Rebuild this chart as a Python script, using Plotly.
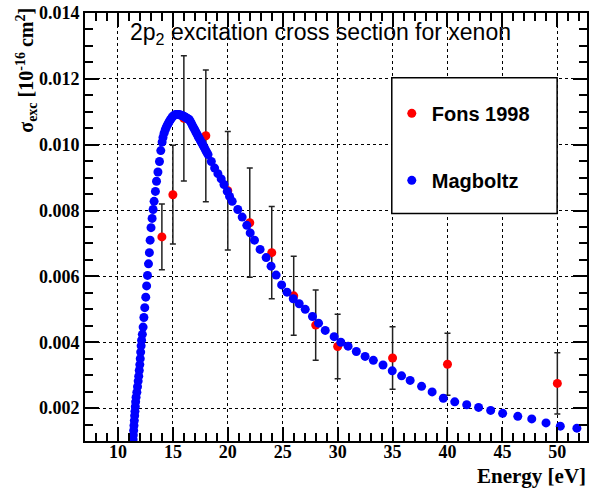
import plotly.graph_objects as go

# Fons 1998 measurements
fons_E = [14, 15, 16, 18, 20, 22, 24, 26, 28, 30, 35, 40, 50]
fons_sigma = [0.0072, 0.00848, 0.0108, 0.01027, 0.0086, 0.00763, 0.00672, 0.00541, 0.00452, 0.00387, 0.00352, 0.00333, 0.00275]
fons_err = [0.0010, 0.0015, 0.0019, 0.0020, 0.0018, 0.00166, 0.0014, 0.0012, 0.00107, 0.00098, 0.00095, 0.00094, 0.00093]

# Magboltz calculation
mag_E = [
    11.38, 11.40, 11.43, 11.46, 11.49, 11.52, 11.55, 11.58, 11.61, 11.65,
    11.72, 11.78, 11.84, 11.89, 11.94, 11.99, 12.03, 12.07, 12.11, 12.15,
    12.22, 12.29, 12.36, 12.44, 12.53, 12.61, 12.69, 12.78, 12.86, 12.93,
    13.01, 13.11, 13.20, 13.29, 13.41, 13.51, 13.64, 13.78, 13.90, 14.02,
    14.10, 14.20, 14.30, 14.40, 14.50, 14.60, 14.70, 14.80, 14.90, 15.00,
    15.10, 15.20, 15.30, 15.40, 15.50, 15.60, 15.70, 15.80, 15.90, 16.00,
    16.10, 16.20, 16.30, 16.40, 16.50, 16.60, 16.70, 16.80, 16.90, 17.00,
    17.10, 17.20, 17.30, 17.40, 17.50, 17.60, 17.70, 17.80, 17.90, 18.00,
    18.10, 18.20, 18.50, 18.80, 19.10, 19.40, 19.65, 19.95, 20.16, 20.40,
    20.91, 21.31, 21.73, 22.04, 22.43, 22.94, 23.49, 23.94, 24.40, 24.90,
    25.39, 25.96, 26.50, 27.05, 27.71, 28.26, 28.87, 29.68, 30.29, 30.95,
    31.70, 32.50, 33.25, 34.13, 34.97, 35.82, 36.60, 37.64, 38.60, 39.62,
    40.66, 41.75, 42.83, 43.93, 45.02, 46.40, 47.67, 48.97, 50.27, 51.78,
]
mag_sigma = [
    0.00105, 0.00118, 0.00132, 0.00147, 0.00162, 0.00177, 0.00190, 0.00204, 0.00219, 0.00233,
    0.00248, 0.00265, 0.00282, 0.00297, 0.00314, 0.00332, 0.00350, 0.00370, 0.00389, 0.00406,
    0.00424, 0.00446, 0.00475, 0.00505, 0.00537, 0.00571, 0.00603, 0.00638, 0.00672, 0.00710,
    0.00748, 0.00776, 0.00803, 0.00828, 0.00858, 0.00889, 0.00917, 0.00949, 0.00982, 0.01008,
    0.01022, 0.01035, 0.01045, 0.01053, 0.01060, 0.01066, 0.01072, 0.01077, 0.01082, 0.01086,
    0.01089, 0.01091, 0.01092, 0.01092, 0.01092, 0.01091, 0.01090, 0.01089, 0.01088, 0.01086,
    0.01084, 0.01082, 0.01080, 0.01078, 0.01076, 0.01070, 0.01064, 0.01057, 0.01051, 0.01045,
    0.01038, 0.01032, 0.01025, 0.01019, 0.01013, 0.01007, 0.01001, 0.00995, 0.00989, 0.00982,
    0.00976, 0.00970, 0.00949, 0.00929, 0.00912, 0.00896, 0.00879, 0.00858, 0.00843, 0.00828,
    0.00803, 0.00780, 0.00755, 0.00732, 0.00710, 0.00682, 0.00657, 0.00631, 0.00604, 0.00574,
    0.00552, 0.00532, 0.00517, 0.00500, 0.00478, 0.00458, 0.00436, 0.00417, 0.00400, 0.00388,
    0.00372, 0.00357, 0.00345, 0.00331, 0.00313, 0.00298, 0.00284, 0.00266, 0.00249, 0.00230,
    0.00219, 0.00210, 0.00202, 0.00193, 0.00184, 0.00175, 0.00167, 0.00155, 0.00145, 0.00139,
]

SERIF = "Liberation Serif"
SANS = "Liberation Sans, Arial, sans-serif"

fig = go.Figure()
fig.add_trace(go.Scatter(
    x=fons_E, y=fons_sigma, mode="markers", name="Fons 1998", legendgroup="a",
    marker=dict(color="#ff0000", size=9, line=dict(width=0)),
    error_y=dict(type="data", array=fons_err, visible=True, color="#222222", thickness=1.5, width=3),
))
fig.add_trace(go.Scatter(
    x=mag_E, y=mag_sigma, mode="markers", name="Magboltz", legendgroup="b",
    marker=dict(color="#0000ff", size=9, line=dict(width=0)),
))

axis_common = dict(
    showline=True, linecolor="black", linewidth=2, mirror="allticks",
    ticks="inside", tickcolor="black", tickwidth=1.5,
    showgrid=True, gridcolor="black", gridwidth=1, griddash="dot",
    zeroline=False,
    tickfont=dict(family=SERIF, size=18, color="black", weight="bold"),
)

fig.update_xaxes(
    range=[7, 52.7], tick0=0, dtick=5, ticklen=14, ticklabelstandoff=-7,
    minor=dict(dtick=1, ticks="inside", ticklen=8, tickcolor="black", tickwidth=1.5, showgrid=False),
    **axis_common,
)
fig.update_yaxes(
    range=[0.001, 0.014], tick0=0, dtick=0.002, ticklen=14, tickformat=".3f",
    minor=dict(dtick=0.0005, ticks="inside", ticklen=8, tickcolor="black", tickwidth=1.5, showgrid=False),
    **axis_common,
)

fig.update_layout(
    width=592, height=488,
    margin=dict(l=85, r=3, t=12, b=47),
    paper_bgcolor="white", plot_bgcolor="white",
    showlegend=True,
    legend=dict(
        x=(393 - 85) / 504, xanchor="left", y=(441 - 93) / 429, yanchor="top",
        bgcolor="rgba(0,0,0,0)", borderwidth=0, tracegroupgap=38,
        font=dict(family=SANS, size=20, color="black", weight="bold"),
    ),
    shapes=[dict(
        type="rect", xref="paper", yref="paper",
        x0=(393 - 85) / 504, x1=(559 - 85) / 504, y0=(441 - 213) / 429, y1=(441 - 77) / 429,
        line=dict(color="black", width=1.5), fillcolor="white", layer="above",
    )],
    annotations=[
        dict(text="2p<sub>2</sub> excitation cross section for xenon", xref="paper", yref="paper",
             x=(321 - 85) / 504, y=(441 - 33) / 429, xanchor="center", yanchor="middle",
             showarrow=False, font=dict(family=SANS, size=23, color="black")),
        dict(text="σ<sub>exc</sub> [10<sup>-16</sup> cm<sup>2</sup>]", xref="paper", yref="paper",
             x=-(85 - 26) / 504, y=1 + (12 - 5) / 429, xanchor="center", yanchor="top",
             textangle=-90, showarrow=False,
             font=dict(family=SERIF, size=20, color="black", weight="bold")),
        dict(text="Energy [eV]", xref="paper", yref="paper",
             x=1 + 1 / 504, y=-(476 - 441) / 429, xanchor="right", yanchor="middle",
             showarrow=False, font=dict(family=SERIF, size=21, color="black", weight="bold")),
    ],
)

fig.write_html("out.html")
